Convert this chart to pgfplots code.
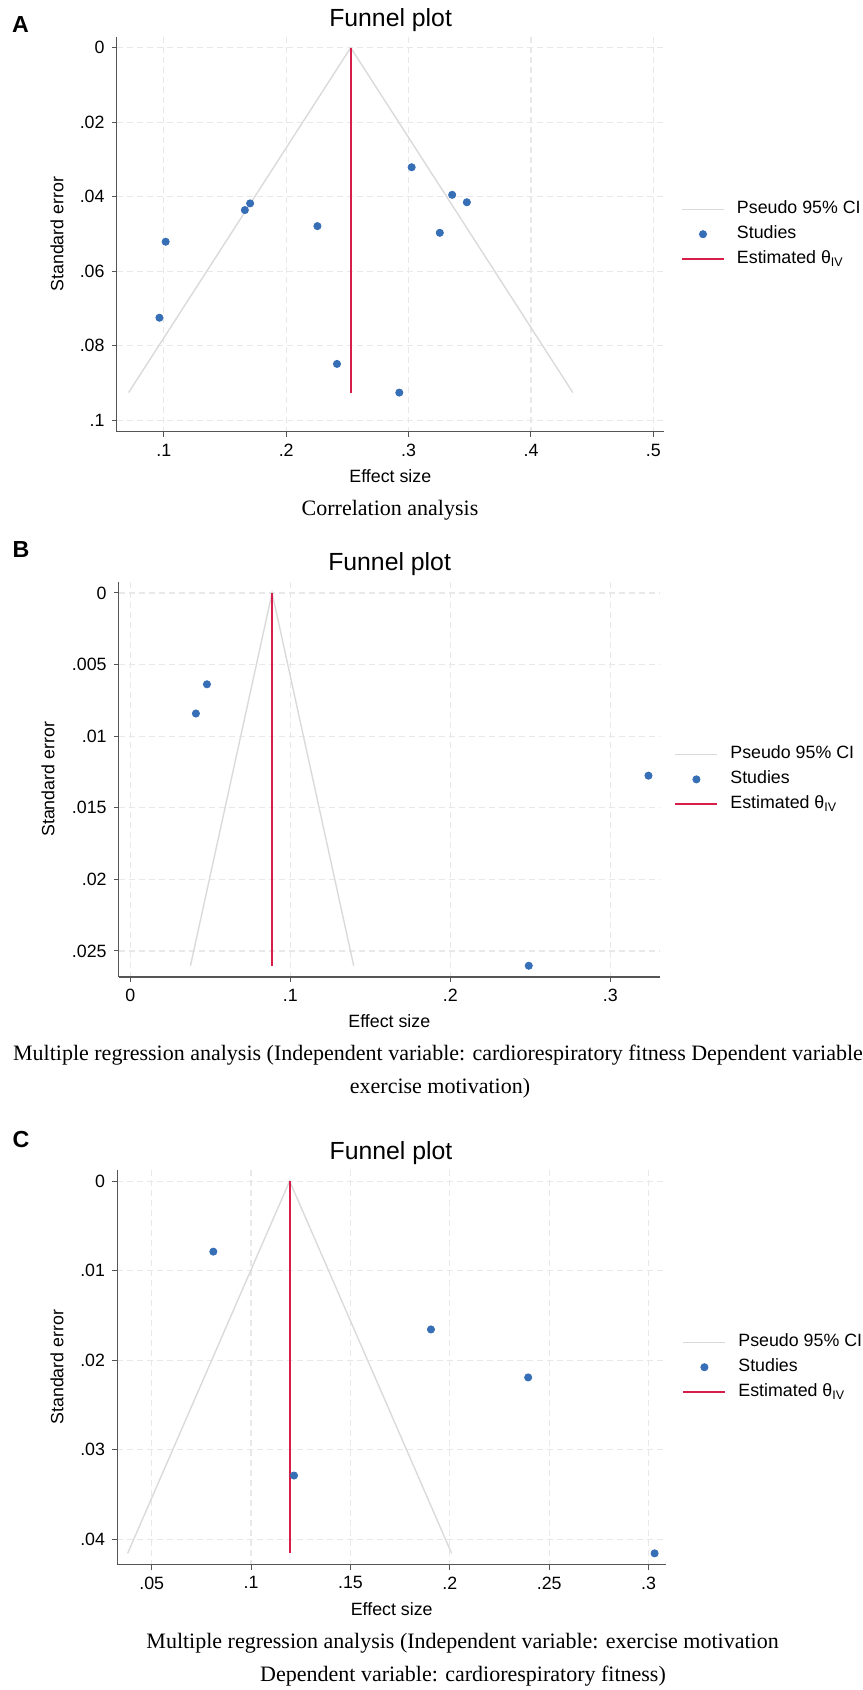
\documentclass[border=0pt]{standalone}
\usepackage{fontspec}
\setmainfont{Liberation Sans}
\newfontfamily\capfont{Liberation Serif}
\usepackage{pgfplots}
\pgfplotsset{compat=1.18}

\definecolor{dotBlue}{RGB}{55,111,183}
\definecolor{estRed}{RGB}{214,30,72}
\definecolor{ciGray}{RGB}{218,218,218}
\definecolor{gridGray}{RGB}{232,232,232}
\definecolor{axGray}{RGB}{85,85,85}

\newcommand{\tickfont}{\fontsize{8.9}{10}\selectfont}
\newcommand{\titlefont}{\fontsize{12.4}{14}\selectfont}
\newcommand{\capsize}{\fontsize{11}{13}\selectfont}

\pgfplotsset{
    funnel/.style={
            scale only axis,
            anchor=south west,
            y dir=reverse,
            scaled ticks=false,
            axis x line*=bottom,
            axis y line*=left,
            axis line style={axGray, line width=0.6pt, -},
            tick align=outside,
            major tick length=2.5pt,
            tick style={axGray, line width=0.5pt},
            grid=major,
            major grid style={gridGray, line width=0.6pt, dash pattern=on 3pt off 2pt},
            tick label style={font=\tickfont},
            label style={font=\tickfont},
            xlabel={Effect size},
            ylabel={Standard error},
            clip=false,
            legend cell align=left,
            legend image code/.code={
                    \draw[mark repeat=2,mark phase=2,##1] plot coordinates {(0pt,0pt) (10.5pt,0pt) (21pt,0pt)};
                },
            legend style={
                    draw=none,
                    fill=none,
                    anchor=west,
                    font=\tickfont,
                    inner sep=0pt,
                    row sep=4pt,
                    nodes={inner sep=0pt, text height=6.5pt, text depth=2pt},
                    /tikz/every odd column/.append style={column sep=6pt},
                },
        },
    ci/.style={ciGray, line width=0.7pt},
    study/.style={only marks, mark=*, mark size=1.8pt, mark options={draw=dotBlue, fill=dotBlue}},
    est/.style={estRed, line width=1pt},
}

\begin{document}
\begin{tikzpicture}
    \useasboundingbox (0pt,0pt) rectangle (431pt,-845pt);

    % ---------------- Panel A ----------------
    \node[font=\bfseries\fontsize{11.6}{13}\selectfont] at (10.25pt,-12.25pt) {A};
    \node[font=\titlefont] at (195.3pt,-10pt) {Funnel plot};
    \begin{axis}[
            funnel,
            at={(58.3pt,-215.85pt)},
            width=273.7pt, height=197.5pt,
            xmin=0.0614, xmax=0.5087,
            ymin=-0.00295, ymax=0.1031,
            xtick={0.1,0.2,0.3,0.4,0.5},
            xticklabels={.1,.2,.3,.4,.5},
            ytick={0,0.02,0.04,0.06,0.08,0.1},
            yticklabels={0,.02,.04,.06,.08,.1},
            xlabel style={at={(axis description cs:0.5,-0.1114)}, anchor=center},
            ylabel style={at={(axis description cs:-0.109,0.5)}, anchor=center},
            legend style={at={(1.0303,0.5)}},
        ]
        \addplot[ci] coordinates {(0.0712,0.0926) (0.2527,0) (0.4342,0.0926)};
        \addlegendentry{Pseudo 95\% CI}
        \addplot[study] coordinates {
                (0.0964,0.0725) (0.1015,0.0521) (0.1662,0.0436) (0.1705,0.0418)
                (0.2255,0.0479) (0.2415,0.0849) (0.2924,0.0926) (0.3025,0.0321)
                (0.3255,0.0497) (0.3356,0.0395) (0.3476,0.0415)
            };
        \addlegendentry{Studies}
        \addplot[est] coordinates {(0.2527,0) (0.2527,0.0926)};
        \addlegendentry{Estimated θ\textsubscript{IV}}
    \end{axis}
    \node[font=\capfont\capsize] at (195pt,-255pt) {Correlation analysis};

    % ---------------- Panel B ----------------
    \node[font=\bfseries\fontsize{11.6}{13}\selectfont] at (10.5pt,-275pt) {B};
    \node[font=\titlefont] at (194.8pt,-282pt) {Funnel plot};
    \begin{axis}[
            funnel,
            at={(59.35pt,-488.45pt)},
            width=270.65pt, height=197.55pt,
            xmin=-0.00724, xmax=0.3310,
            ymin=-0.000775, ymax=0.02681,
            xtick={0,0.1,0.2,0.3},
            xticklabels={0,.1,.2,.3},
            ytick={0,0.005,0.01,0.015,0.02,0.025},
            yticklabels={0,.005,.01,.015,.02,.025},
            xlabel style={at={(axis description cs:0.5,-0.1124)}, anchor=center},
            ylabel style={at={(axis description cs:-0.1306,0.5)}, anchor=center},
            legend style={at={(1.0259,0.5)}},
        ]
        \addplot[ci] coordinates {(0.0376,0.02603) (0.0886,0) (0.1396,0.02603)};
        \addlegendentry{Pseudo 95\% CI}
        \addplot[study] coordinates {
                (0.0410,0.00842) (0.0479,0.00638) (0.2490,0.02603) (0.3238,0.01276)
            };
        \addlegendentry{Studies}
        \addplot[est] coordinates {(0.0886,0) (0.0886,0.02603)};
        \addlegendentry{Estimated θ\textsubscript{IV}}
    \end{axis}
    \node[font=\capfont\capsize] at (219pt,-527.65pt)
    {Multiple regression analysis (Independent variable: cardiorespiratory fitness Dependent variable};
    \node[font=\capfont\capsize] at (220pt,-544.3pt) {exercise motivation)};

    % ---------------- Panel C ----------------
    \node[font=\bfseries\fontsize{11.6}{13}\selectfont] at (10.5pt,-570pt) {C};
    \node[font=\titlefont] at (195.5pt,-576.35pt) {Funnel plot};
    \begin{axis}[
            funnel,
            at={(58.55pt,-782.3pt)},
            width=274.6pt, height=197.4pt,
            xmin=0.0326, xmax=0.3089,
            ymin=-0.00126, ymax=0.04284,
            xtick={0.05,0.1,0.15,0.2,0.25,0.3},
            xticklabels={.05,.1,.15,.2,.25,.3},
            ytick={0,0.01,0.02,0.03,0.04},
            yticklabels={0,.01,.02,.03,.04},
            xlabel style={at={(axis description cs:0.5,-0.1124)}, anchor=center},
            ylabel style={at={(axis description cs:-0.1094,0.5)}, anchor=center},
            legend style={at={(1.0286,0.5)}},
        ]
        \addplot[ci] coordinates {(0.0379,0.04158) (0.1194,0) (0.2009,0.04158)};
        \addlegendentry{Pseudo 95\% CI}
        \addplot[study] coordinates {
                (0.0810,0.00788) (0.1216,0.03289) (0.1905,0.01657) (0.2394,0.02193)
                (0.3030,0.04158)
            };
        \addlegendentry{Studies}
        \addplot[est] coordinates {(0.1194,0) (0.1194,0.04158)};
        \addlegendentry{Estimated θ\textsubscript{IV}}
    \end{axis}
    \node[font=\capfont\capsize] at (231.3pt,-821.7pt)
    {Multiple regression analysis (Independent variable: exercise motivation};
    \node[font=\capfont\capsize] at (231.5pt,-838.1pt) {Dependent variable: cardiorespiratory fitness)};
\end{tikzpicture}
\end{document}
